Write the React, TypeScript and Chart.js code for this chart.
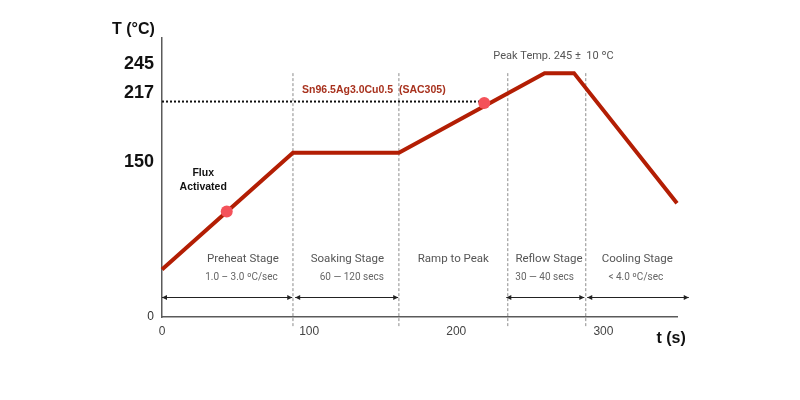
import React, { useEffect, useRef } from "react";
import { Chart, registerables } from "chart.js";

Chart.register(...registerables);

// ---- data ----
const profileTime = [0, 89, 161, 260, 280, 350];
const profileTemp = [46, 159, 159, 236, 236, 110];
const markerTime = [44, 219];
const markerTemp = [102, 207];
const liquidusTime = [0, 219];
const liquidusTemp = [208.5, 208.5];
const stageBoundaryTime = [89, 161, 235, 288];
const stageBoundaryTemp = [236, -10.5];
const yTickValues = [0, 150, 217, 245];
const xTickValues = [0, 100, 200, 300];
const stageNames = ["Preheat Stage", "Soaking Stage", "Ramp to Peak", "Reflow Stage", "Cooling Stage"];
const stageNameTime = [55, 126, 198, 263, 323];
const stageNotes = ["1.0 – 3.0 ºC/sec", "60 — 120 secs", "", "30 — 40 secs", "< 4.0 ºC/sec"];
const stageNoteTime = [54, 129, 198, 260, 322];
const stageArrowStart = [0, 90.5, 234, 289];
const stageArrowEnd = [88.5, 160.5, 287, 358];
const fluxLabel = ["Flux", "Activated"];
const alloyLabel = "Sn96.5Ag3.0Cu0.5  (SAC305)";
const peakLabel = "Peak Temp. 245 ±  10 ºC";
const xAxisTitle = "t (s)";
const yAxisTitle = "T (°C)";

const annotationPlugin = {
  id: "annotations",
  afterDraw(chart: any) {
    const { ctx } = chart;
    const x = chart.scales.x;
    const y = chart.scales.y;
    const px = (t: number) => x.getPixelForValue(t);
    const py = (v: number) => y.getPixelForValue(v);
    ctx.save();

    // stage arrows
    ctx.strokeStyle = "#222";
    ctx.fillStyle = "#222";
    ctx.lineWidth = 1;
    const ay = Math.round(py(19.5)) + 0.5;
    stageArrowStart.forEach((s, i) => {
      const x1 = px(s);
      const x2 = px(stageArrowEnd[i]);
      ctx.beginPath();
      ctx.moveTo(x1, ay);
      ctx.lineTo(x2, ay);
      ctx.stroke();
      const head = (xx: number, dir: number) => {
        ctx.beginPath();
        ctx.moveTo(xx, ay);
        ctx.lineTo(xx - dir * 5, ay - 2.5);
        ctx.lineTo(xx - dir * 5, ay + 2.5);
        ctx.closePath();
        ctx.fill();
      };
      head(x1, -1);
      head(x2, 1);
    });

    const text = (s: string, t: number, v: number, font: string, color: string, align: string) => {
      ctx.font = font;
      ctx.fillStyle = color;
      ctx.textAlign = align;
      ctx.textBaseline = "middle";
      ctx.fillText(s, px(t), py(v));
    };

    stageNames.forEach((s, i) => text(s, stageNameTime[i], 56, "11.5px Roboto", "#555", "center"));
    stageNotes.forEach((s, i) => {
      if (s) text(s, stageNoteTime[i], 37.8, "10px Roboto", "#666", "center");
    });
    text(fluxLabel[0], 28, 139.4, "bold 10.5px 'Liberation Sans', Arial", "#111", "center");
    text(fluxLabel[1], 28, 125.8, "bold 10.5px 'Liberation Sans', Arial", "#111", "center");
    text(alloyLabel, 95.2, 219.3, "bold 10.5px 'Liberation Sans', Arial", "#a8321e", "left");
    text(peakLabel, 225.2, 252.7, "11px Roboto", "#555", "left");
    text(yAxisTitle, -34, 277.8, "bold 16px 'Liberation Sans', Arial", "#111", "left");
    text(xAxisTitle, 336, -21.3, "bold 16px 'Liberation Sans', Arial", "#111", "left");
    ctx.restore();
  },
};

export default function App() {
  const ref = useRef<HTMLCanvasElement>(null);
  useEffect(() => {
    const chart = new Chart(ref.current as HTMLCanvasElement, {
      type: "line",
      data: {
        datasets: [
          {
            label: "markers",
            data: markerTime.map((t, i) => ({ x: t, y: markerTemp[i] })),
            showLine: false,
            pointRadius: 6,
            pointBackgroundColor: "#f4525a",
            pointBorderWidth: 0,
            borderColor: "#f4525a",
          },
          {
            label: "profile",
            data: profileTime.map((t, i) => ({ x: t, y: profileTemp[i] })),
            borderColor: "#b31e04",
            borderWidth: 4,
            pointRadius: 0,
            tension: 0,
            borderJoinStyle: "miter",
            clip: false,
          },
          {
            label: "liquidus",
            data: liquidusTime.map((t, i) => ({ x: t, y: liquidusTemp[i] })),
            borderColor: "#111",
            borderWidth: 2,
            borderDash: [2, 2],
            pointRadius: 0,
          },
          ...stageBoundaryTime.map((t) => ({
            label: "boundary",
            data: stageBoundaryTemp.map((v) => ({ x: t, y: v })),
            borderColor: "#8c8c8c",
            borderWidth: 1,
            borderDash: [3, 2],
            pointRadius: 0,
            clip: false,
          })),
        ],
      } as any,
      options: {
        animation: false,
        responsive: false,
        events: [],
        layout: { padding: { left: 0, right: 123, top: 38, bottom: 0 } },
        plugins: { legend: { display: false }, tooltip: { enabled: false } },
        scales: {
          x: {
            type: "linear",
            min: 0,
            max: 350,
            afterFit: (s: any) => {
              s.height = 83;
            },
            afterBuildTicks: (s: any) => {
              s.ticks = xTickValues.map((v) => ({ value: v }));
            },
            grid: { display: false, drawTicks: false },
            border: { display: true, color: "#5a5a5a", width: 1.5 },
            ticks: {
              padding: 7,
              color: "#444",
              font: { family: "'Liberation Sans', Arial", size: 12 },
              maxRotation: 0,
              autoSkip: false,
            },
          },
          y: {
            type: "linear",
            min: 0,
            max: 270,
            afterFit: (s: any) => {
              s.width = 162;
            },
            afterBuildTicks: (s: any) => {
              s.ticks = yTickValues.map((v) => ({ value: v }));
            },
            grid: { display: false, drawTicks: false },
            border: { display: true, color: "#5a5a5a", width: 1.5 },
            ticks: {
              padding: 8,
              autoSkip: false,
              color: (c: any) => (c.tick && c.tick.value === 0 ? "#333" : "#111"),
              font: (c: any) =>
                c.tick && c.tick.value === 0
                  ? { family: "'Liberation Sans', Arial", size: 12 }
                  : { family: "'Liberation Sans', Arial", size: 18, weight: "bold" },
            },
          },
        },
      } as any,
      plugins: [annotationPlugin as any],
    });
    return () => chart.destroy();
  }, []);
  return (
    <div style={{ position: "absolute", left: 0, top: 0, width: 800, height: 400, background: "#fff" }}>
      <canvas ref={ref} width={800} height={400} style={{ width: 800, height: 400, display: "block" }} />
    </div>
  );
}
